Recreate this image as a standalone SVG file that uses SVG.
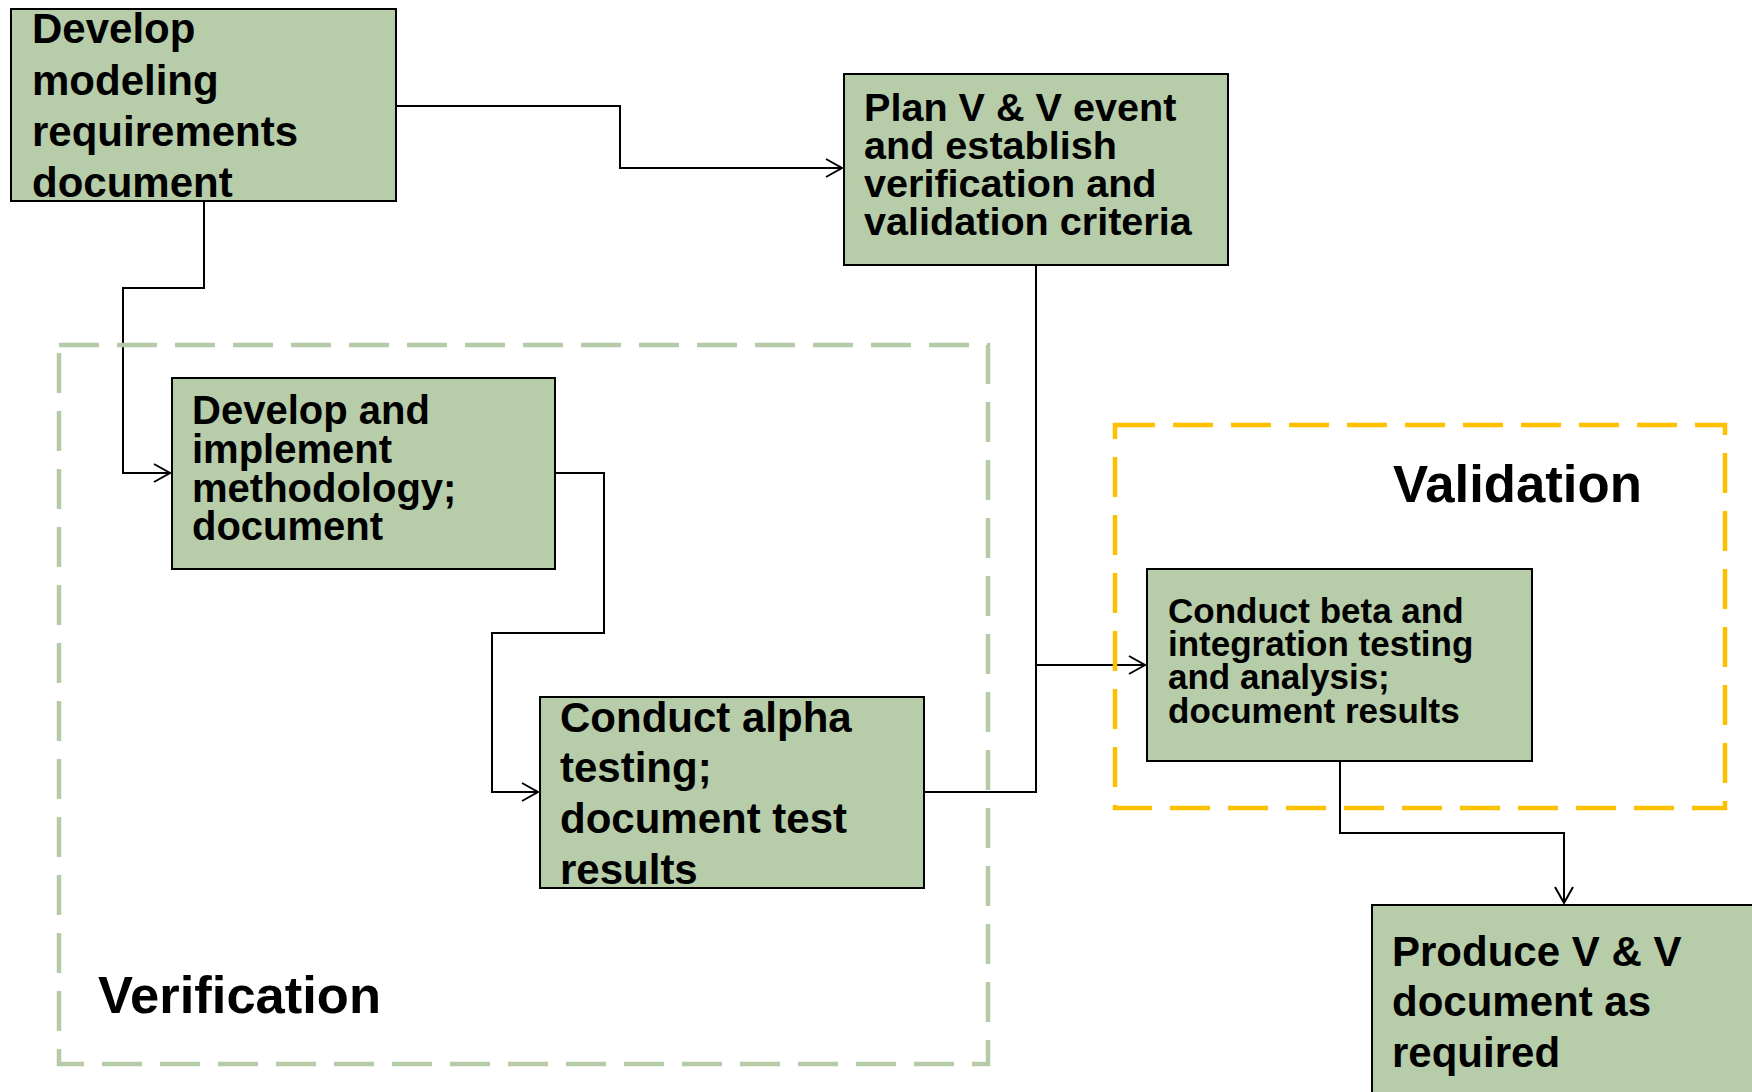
<svg xmlns="http://www.w3.org/2000/svg" width="1752" height="1092" viewBox="0 0 1752 1092">
  <style>
    .node rect { fill: #b7cca9; stroke: #000; stroke-width: 2; }
    .node text, .label { font-family: "Liberation Sans", Arial, sans-serif; font-weight: bold; fill: #000; }
    .conn { fill: none; stroke: #000; stroke-width: 2; }
    .verif { fill: none; stroke: #b5cba7; stroke-width: 4.5; stroke-dasharray: 40 18; }
    .valid { fill: none; stroke: #ffc000; stroke-width: 4.5; stroke-dasharray: 40 18; }
  </style>
  <defs>
    <marker id="arrow" markerUnits="userSpaceOnUse" markerWidth="20" markerHeight="22" refX="17" refY="10" orient="auto">
      <path d="M1,1 L17,10 L1,19" fill="none" stroke="#000" stroke-width="2"/>
    </marker>
  </defs>
  <rect width="1752" height="1092" fill="#fff"/>

  <!-- connectors -->
  <g id="connectors">
    <path class="conn" d="M396,106 H620 V168 H842" marker-end="url(#arrow)"/>
    <path class="conn" d="M204,201 V288 H123 V473 H170" marker-end="url(#arrow)"/>
    <path class="conn" d="M555,473 H604 V633 H492 V792 H538" marker-end="url(#arrow)"/>
    <path class="conn" d="M924,792 H1036 V265"/>
    <path class="conn" d="M1036,665 H1145" marker-end="url(#arrow)"/>
    <path class="conn" d="M1340,761 V833 H1564 V903" marker-end="url(#arrow)"/>
  </g>

  <!-- phase containers -->
  <g id="verification">
    <rect class="verif" x="59" y="345" width="929" height="719"/>
    <text class="label" x="98" y="1013" font-size="52.5">Verification</text>
  </g>
  <g id="validation">
    <rect class="valid" x="1115" y="425" width="610" height="383"/>
    <text class="label" x="1393" y="502" font-size="52.7">Validation</text>
  </g>

  <!-- process steps -->
  <g id="develop-requirements" class="node">
    <rect x="11" y="9" width="385" height="192"/>
    <text font-size="42">
      <tspan x="32" y="43">Develop</tspan>
      <tspan x="32" y="95">modeling</tspan>
      <tspan x="32" y="146">requirements</tspan>
      <tspan x="32" y="197">document</tspan>
    </text>
  </g>
  <g id="plan-vv" class="node">
    <rect x="844" y="74" width="384" height="191"/>
    <text font-size="39.6">
      <tspan x="864" y="121">Plan V &amp; V event</tspan>
      <tspan x="864" y="159">and establish</tspan>
      <tspan x="864" y="197">verification and</tspan>
      <tspan x="864" y="235">validation criteria</tspan>
    </text>
  </g>
  <g id="develop-methodology" class="node">
    <rect x="172" y="378" width="383" height="191"/>
    <text font-size="40">
      <tspan x="192" y="424">Develop and</tspan>
      <tspan x="192" y="463">implement</tspan>
      <tspan x="192" y="502">methodology;</tspan>
      <tspan x="192" y="540">document</tspan>
    </text>
  </g>
  <g id="alpha-testing" class="node">
    <rect x="540" y="697" width="384" height="191"/>
    <text font-size="42">
      <tspan x="560" y="732">Conduct alpha</tspan>
      <tspan x="560" y="782">testing;</tspan>
      <tspan x="560" y="833">document test</tspan>
      <tspan x="560" y="884">results</tspan>
    </text>
  </g>
  <g id="beta-testing" class="node">
    <rect x="1147" y="569" width="385" height="192"/>
    <text font-size="35">
      <tspan x="1168" y="623">Conduct beta and</tspan>
      <tspan x="1168" y="656">integration testing</tspan>
      <tspan x="1168" y="689">and analysis;</tspan>
      <tspan x="1168" y="723">document results</tspan>
    </text>
  </g>
  <g id="produce-document" class="node">
    <rect x="1372" y="905" width="390" height="200"/>
    <text font-size="42">
      <tspan x="1392" y="966">Produce V &amp; V</tspan>
      <tspan x="1392" y="1016">document as</tspan>
      <tspan x="1392" y="1067">required</tspan>
    </text>
  </g>
</svg>
